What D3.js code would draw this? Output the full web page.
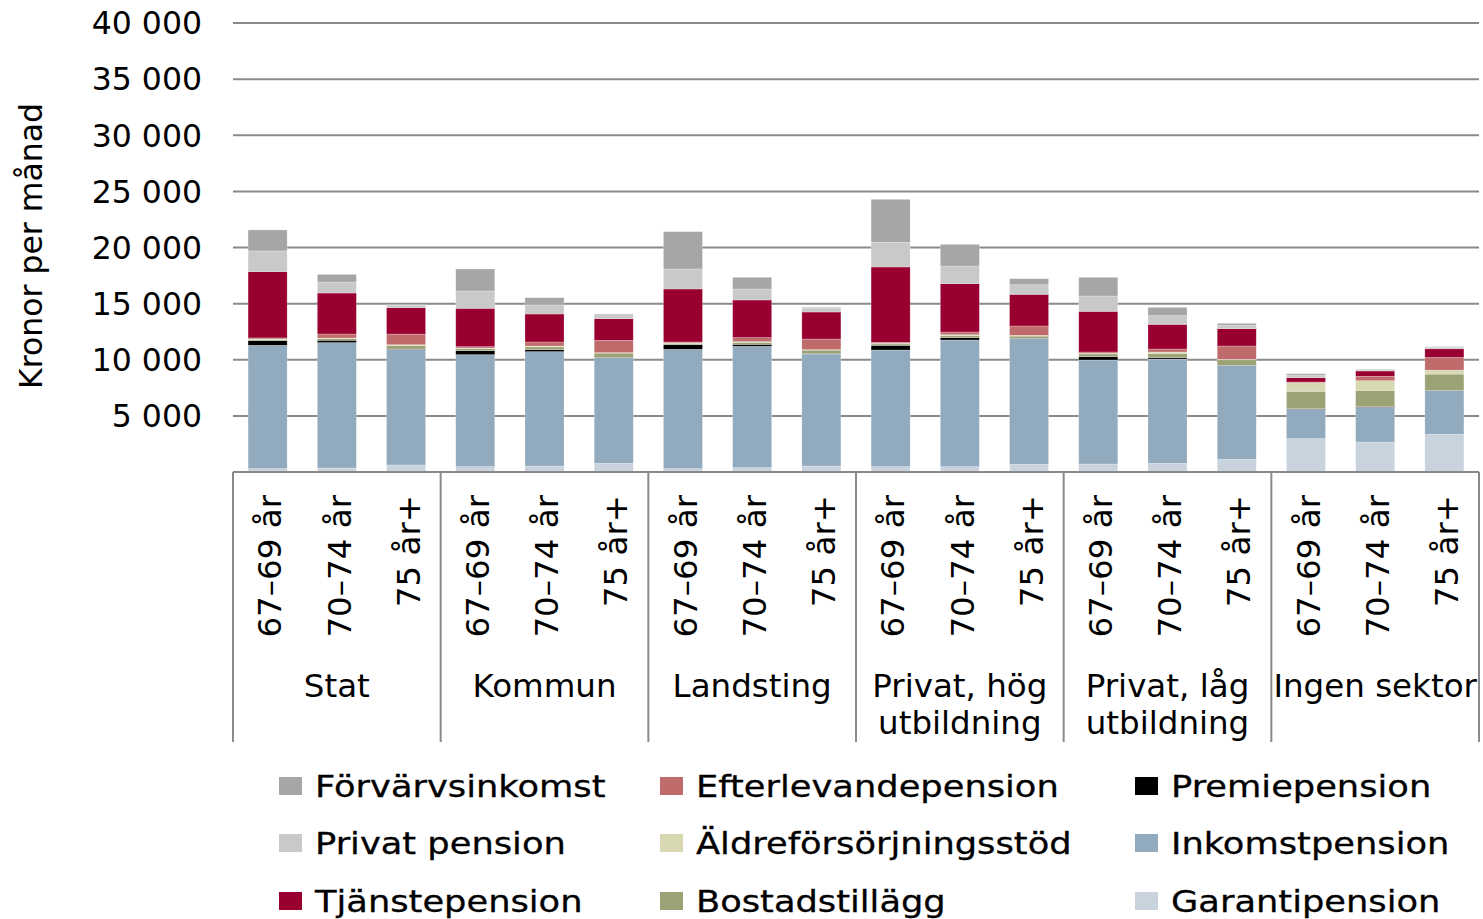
<!DOCTYPE html>
<html>
<head>
<meta charset="utf-8">
<script src="https://cdn.jsdelivr.net/npm/d3@7"></script>
<style>
  body { margin: 0; background: #fff; }
  text { font-family: "DejaVu Sans", Verdana, sans-serif; fill: #000; }
</style>
</head>
<body>
<script>
// sectors and age bands
var groups = ['Stat', 'Kommun', 'Landsting', 'Privat, hög\nutbildning', 'Privat, låg\nutbildning', 'Ingen sektor'];
var ages = ['67–69 år', '70–74 år', '75 år+'];
var yTicks = [5000, 10000, 15000, 20000, 25000, 30000, 35000, 40000];

// one value per bar, 6 sectors x 3 age bands (kr per month)
var garantipension      = [297, 356, 624, 475, 535, 772, 297, 386, 535, 475, 475, 683, 713, 772, 1128, 2969, 2673, 3356];
var inkomstpension      = [10990, 11170, 10304, 9978, 10185, 9414, 10631, 10809, 9977, 10394, 11284, 11195, 9265, 9295, 8345, 2614, 3088, 3890];
var premiepension       = [416, 210, 30, 356, 178, 25, 415, 178, 25, 415, 208, 30, 297, 119, 24, 60, 60, 20];
var bostadstillagg      = [110, 150, 300, 180, 250, 380, 120, 180, 320, 120, 200, 200, 240, 380, 500, 1544, 1454, 1455];
var aldreforsorjning    = [40, 50, 80, 60, 77, 40, 40, 60, 40, 60, 67, 67, 57, 124, 40, 771, 862, 356];
var efterlevandepension = [90, 356, 950, 118, 356, 1099, 80, 356, 951, 90, 238, 832, 118, 268, 1188, 60, 386, 1129];
var tjanstepension      = [5909, 3653, 2346, 3416, 2495, 1930, 4722, 3356, 2405, 6711, 4306, 2821, 3623, 2197, 1544, 386, 475, 772];
var privatpension       = [1841, 980, 220, 1544, 802, 350, 1782, 980, 350, 2197, 1574, 861, 1366, 772, 297, 237, 100, 150];
var forvarvsinkomst     = [1871, 682, 50, 1960, 653, 70, 3326, 1040, 70, 3830, 1930, 534, 1664, 743, 178, 119, 50, 30];

// stack order, bottom to top
var series = [
  {name: 'Garantipension', values: garantipension, color: '#c8d3dd'},
  {name: 'Inkomstpension', values: inkomstpension, color: '#91aabd'},
  {name: 'Premiepension', values: premiepension, color: '#000000'},
  {name: 'Bostadstillägg', values: bostadstillagg, color: '#9ba276'},
  {name: 'Äldreförsörjningsstöd', values: aldreforsorjning, color: '#d8d8b2'},
  {name: 'Efterlevandepension', values: efterlevandepension, color: '#c06b6b'},
  {name: 'Tjänstepension', values: tjanstepension, color: '#990030'},
  {name: 'Privat pension', values: privatpension, color: '#c9c9c9'},
  {name: 'Förvärvsinkomst', values: forvarvsinkomst, color: '#a6a6a6'}
];

// legend is laid out column by column, top of stack first
var legendOrder = ['Förvärvsinkomst', 'Privat pension', 'Tjänstepension',
  'Efterlevandepension', 'Äldreförsörjningsstöd', 'Bostadstillägg',
  'Premiepension', 'Inkomstpension', 'Garantipension'];

var rows = [];
groups.forEach(function(g, gi) {
  ages.forEach(function(a, ai) {
    var r = {group: g, age: a};
    series.forEach(function(s) { r[s.name] = s.values[gi * 3 + ai]; });
    rows.push(r);
  });
});

var svg = d3.select('body').append('svg')
    .attr('width', 1483)
    .attr('height', 919);

var plotLeft = 233, plotRight = 1479, plotTop = 23, plotBottom = 472;

var y = d3.scaleLinear().domain([0, 40000]).range([plotBottom, plotTop]);
var xGroup = d3.scaleBand().domain(groups).range([plotLeft, plotRight]);
var xAge = d3.scaleBand().domain(ages).range([0, xGroup.bandwidth()])
    .paddingInner(0.436).paddingOuter(0.218);

var fmt = function(v) { return d3.format(',')(v).replace(/,/g, ' '); };

// gridlines
svg.append('g').selectAll('line')
  .data(yTicks)
  .enter().append('line')
    .attr('x1', plotLeft)
    .attr('x2', plotRight)
    .attr('y1', function(d) { return y(d); })
    .attr('y2', function(d) { return y(d); })
    .attr('stroke', '#8a8a8a')
    .attr('stroke-width', 2);

svg.append('g').selectAll('text')
  .data(yTicks)
  .enter().append('text')
    .attr('x', 202)
    .attr('y', function(d) { return y(d); })
    .attr('dy', '0.36em')
    .attr('text-anchor', 'end')
    .style('font-size', '31.5px')
    .text(fmt);

svg.append('text')
    .attr('transform', 'translate(31,246) rotate(-90)')
    .attr('text-anchor', 'middle')
    .attr('dy', '0.36em')
    .style('font-size', '31.5px')
    .text('Kronor per månad');

// bars
var stack = d3.stack().keys(series.map(function(s) { return s.name; }));
var stacked = stack(rows);

svg.append('g').selectAll('g')
  .data(stacked)
  .enter().append('g')
    .attr('fill', function(d, i) { return series[i].color; })
  .selectAll('rect')
  .data(function(d) { return d; })
  .enter().append('rect')
    .attr('x', function(d) { return xGroup(d.data.group) + xAge(d.data.age); })
    .attr('y', function(d) { return y(d[1]); })
    .attr('width', xAge.bandwidth())
    .attr('height', function(d) { return y(d[0]) - y(d[1]); })
    .attr('stroke', '#fff')
    .attr('stroke-opacity', 0.4)
    .attr('stroke-width', 0.6);

// x axis line and group separators
svg.append('line')
    .attr('x1', plotLeft).attr('x2', plotRight)
    .attr('y1', plotBottom).attr('y2', plotBottom)
    .attr('stroke', '#8a8a8a').attr('stroke-width', 2);

var seps = groups.map(function(g) { return xGroup(g); }).concat([plotRight]);
svg.append('g').selectAll('line')
  .data(seps)
  .enter().append('line')
    .attr('x1', function(d) { return d; })
    .attr('x2', function(d) { return d; })
    .attr('y1', plotBottom)
    .attr('y2', 742)
    .attr('stroke', '#8a8a8a')
    .attr('stroke-width', 2);

// age labels, rotated
svg.append('g').selectAll('text')
  .data(rows)
  .enter().append('text')
    .attr('transform', function(d) {
      var cx = xGroup(d.group) + xAge(d.age) + xAge.bandwidth() / 2;
      return 'translate(' + (cx + 2) + ',495) rotate(-90)';
    })
    .attr('text-anchor', 'end')
    .attr('dy', '0.36em')
    .style('font-size', '32.5px')
    .text(function(d) { return d.age; });

// sector labels
var gl = svg.append('g').selectAll('text')
  .data(groups)
  .enter().append('text')
    .attr('x', function(d) { return xGroup(d) + xGroup.bandwidth() / 2; })
    .attr('y', 697)
    .attr('text-anchor', 'middle')
    .style('font-size', '32.5px');

gl.selectAll('tspan')
  .data(function(d) { return d.split('\n'); })
  .enter().append('tspan')
    .attr('x', function() { var p = this.parentNode; return p.getAttribute('x'); })
    .attr('dy', function(d, i) { return i === 0 ? 0 : 37; })
    .text(function(d) { return d; });

// legend
var legCols = [279, 660, 1135];
var legRows = [786, 843, 901];
var colorOf = {};
series.forEach(function(s) { colorOf[s.name] = s.color; });

var leg = svg.append('g').selectAll('g')
  .data(legendOrder)
  .enter().append('g')
    .attr('transform', function(d, i) {
      return 'translate(' + legCols[Math.floor(i / 3)] + ',' + legRows[i % 3] + ')';
    });

leg.append('rect')
    .attr('x', 0)
    .attr('y', -9)
    .attr('width', 23)
    .attr('height', 18)
    .attr('fill', function(d) { return colorOf[d]; });

// legend text in the original is horizontally stretched
leg.append('text')
    .attr('transform', 'translate(36,0) scale(1.175,1)')
    .attr('dy', '0.36em')
    .style('font-size', '30px')
    .style('stroke', '#000')
    .style('stroke-width', 0.3)
    .text(function(d) { return d; });
</script>
</body>
</html>
